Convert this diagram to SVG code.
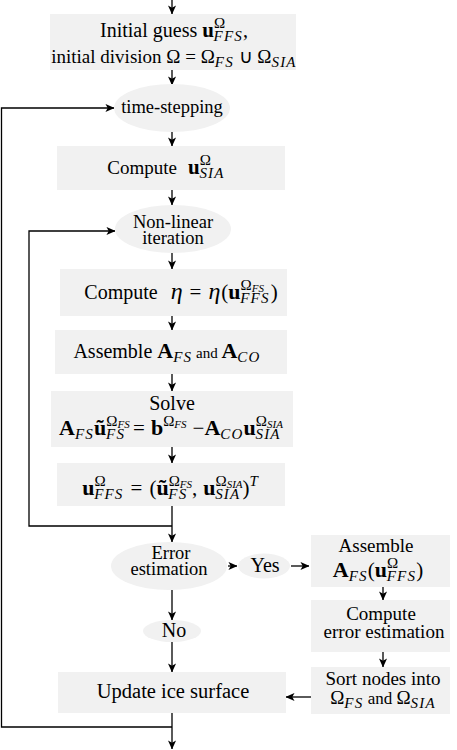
<svg xmlns="http://www.w3.org/2000/svg" width="457" height="750" viewBox="0 0 457 750">
<style>
.bg{fill:#fff}
.n{fill:#f1f1f1;stroke:none}
.c{fill:none;stroke:#000;stroke-width:1.3}
text{font-family:"Liberation Serif","Times New Roman",serif;font-size:19px;fill:#000;text-anchor:middle}
.e{font-size:18.5px}
.yn{font-size:20px}
.mb{font-weight:bold;font-size:22px}
.mi{font-style:italic;font-size:24px}
.mo{font-size:21px}
.sup{font-size:15px}
.sub{font-size:15px;font-style:italic;letter-spacing:1.2px}
.ss{font-size:11px;font-style:italic}
.sm{font-size:15px}
</style>
<defs>
<marker id="ah" viewBox="0 0 10 10" refX="9.5" refY="5" markerWidth="9" markerHeight="9" orient="auto" markerUnits="userSpaceOnUse">
<path d="M0,0.5 L10,5 L0,9.5 L2.5,5 z" fill="#000"/>
</marker>
</defs>
<rect class="bg" x="0" y="0" width="457" height="750"/>

<g id="connectors">
<path class="c" d="M172,0 V14" marker-end="url(#ah)"/>
<path class="c" d="M172,70 V85" marker-end="url(#ah)"/>
<path class="c" d="M172,132 V146" marker-end="url(#ah)"/>
<path class="c" d="M172,190 V205" marker-end="url(#ah)"/>
<path class="c" d="M172,253 V269" marker-end="url(#ah)"/>
<path class="c" d="M172,316 V330" marker-end="url(#ah)"/>
<path class="c" d="M172,374 V391" marker-end="url(#ah)"/>
<path class="c" d="M172,447 V463" marker-end="url(#ah)"/>
<path class="c" d="M172,506 V542" marker-end="url(#ah)"/>
<path class="c" d="M172,590 V620" marker-end="url(#ah)"/>
<path class="c" d="M172,642 V672" marker-end="url(#ah)"/>
<path class="c" d="M172,713 V749" marker-end="url(#ah)"/>
<path class="c" d="M172,727 H1.5 V108 H114" marker-end="url(#ah)"/>
<path class="c" d="M172,526 H29 V231 H115" marker-end="url(#ah)"/>
<path class="c" d="M228,566 H237" marker-end="url(#ah)"/>
<path class="c" d="M291,566 H309" marker-end="url(#ah)"/>
<path class="c" d="M383,587 V600" marker-end="url(#ah)"/>
<path class="c" d="M383,652 V667" marker-end="url(#ah)"/>
<path class="c" d="M311,697 H286" marker-end="url(#ah)"/>
</g>

<g id="init">
<rect class="n" x="50" y="14" width="246" height="56"/>
<text x="174" y="37" style="font-size:20px">Initial guess <tspan class="mb" style="font-size:21px">u</tspan><tspan class="sup" dy="-9">Ω</tspan><tspan class="sub" dx="-11.5" dy="13">FFS</tspan><tspan dy="-4">,</tspan></text>
<text x="174" y="63">initial division Ω = Ω<tspan class="sub" dy="4">FS</tspan><tspan dy="-4"> ∪ Ω</tspan><tspan class="sub" dy="4">SIA</tspan></text>
</g>

<g id="timestep">
<ellipse class="n" cx="172" cy="108" rx="58" ry="24"/>
<text class="e" x="172" y="113">time-stepping</text>
</g>

<g id="computeSIA">
<rect class="n" x="57" y="146" width="228" height="44"/>
<text x="166" y="174">Compute<tspan class="mb" dx="11" style="font-size:21px">u</tspan><tspan class="sup" dy="-9">Ω</tspan><tspan class="sub" dx="-11.5" dy="13">SIA</tspan></text>
</g>

<g id="nonlinear">
<ellipse class="n" cx="173" cy="229" rx="58" ry="24"/>
<text class="e" x="173" y="228">Non-linear</text>
<text class="e" x="173" y="244">iteration</text>
</g>

<g id="computeEta">
<rect class="n" x="60" y="269" width="227" height="47"/>
<text x="181" y="299" style="font-size:20px">Compute<tspan class="mi" dx="13">η</tspan><tspan class="mo" dx="7">=</tspan><tspan class="mi" dx="7">η</tspan><tspan class="mo" dx="1">(</tspan><tspan class="mb">u</tspan><tspan class="sup" dy="-9">Ω</tspan><tspan class="ss" dy="2">FS</tspan><tspan class="sub" dx="-23.7" dy="11">FFS</tspan><tspan class="mo" dx="1" dy="-4">)</tspan></text>
</g>

<g id="assemble">
<rect class="n" x="55" y="330" width="232" height="44"/>
<text x="167" y="358" style="font-size:20px">Assemble <tspan class="mb">A</tspan><tspan class="sub" dy="4">FS</tspan><tspan class="sm" dy="-4"> and </tspan><tspan class="mb">A</tspan><tspan class="sub" dy="4">CO</tspan></text>
</g>

<g id="solve">
<rect class="n" x="51" y="391" width="242" height="56"/>
<text x="172" y="410" style="font-size:20px">Solve</text>
<text x="171" y="435"><tspan class="mb">A</tspan><tspan class="sub" dy="4">FS</tspan><tspan class="mb" dy="-4">ũ</tspan><tspan class="sup" dy="-9">Ω</tspan><tspan class="ss" dy="2">FS</tspan><tspan class="sub" dx="-23.7" dy="11">FS</tspan><tspan class="mo" dx="8" dy="-4">=</tspan><tspan class="mb" dx="6">b</tspan><tspan class="sup" dy="-9">Ω</tspan><tspan class="ss" dy="2">FS</tspan><tspan class="mo" dx="6" dy="7">−</tspan><tspan class="mb">A</tspan><tspan class="sub" dy="4">CO</tspan><tspan class="mb" dy="-4">u</tspan><tspan class="sup" dy="-9">Ω</tspan><tspan class="ss" dy="2">SIA</tspan><tspan class="sub" dx="-27.4" dy="11">SIA</tspan></text>
</g>

<g id="uffs">
<rect class="n" x="57" y="463" width="228" height="43"/>
<text x="170" y="495"><tspan class="mb">u</tspan><tspan class="sup" dy="-9">Ω</tspan><tspan class="sub" dx="-11.5" dy="13">FFS</tspan><tspan class="mo" dx="7" dy="-4">=</tspan><tspan class="mo" dx="7">(</tspan><tspan class="mb">ũ</tspan><tspan class="sup" dy="-9">Ω</tspan><tspan class="ss" dy="2">FS</tspan><tspan class="sub" dx="-23.7" dy="11">FS</tspan><tspan class="mo" dx="4.6" dy="-4">,</tspan><tspan class="mb" dx="6">u</tspan><tspan class="sup" dy="-9">Ω</tspan><tspan class="ss" dy="2">SIA</tspan><tspan class="sub" dx="-27.4" dy="11">SIA</tspan><tspan class="mo" dx="2" dy="-4">)</tspan><tspan class="sup" dy="-9" font-style="italic">T</tspan></text>
</g>

<g id="error">
<ellipse class="n" cx="169" cy="566" rx="58" ry="24"/>
<text class="e" x="171" y="559">Error</text>
<text class="e" x="169" y="575">estimation</text>
</g>

<g id="yes">
<ellipse class="n" cx="264" cy="566" rx="26" ry="12.5"/>
<text class="yn" x="265" y="572">Yes</text>
</g>

<g id="assembleAFS">
<rect class="n" x="311" y="535" width="139" height="52"/>
<text x="376" y="552">Assemble</text>
<text x="378" y="577"><tspan class="mb">A</tspan><tspan class="sub" dy="4">FS</tspan><tspan class="mo" dy="-4">(</tspan><tspan class="mb">u</tspan><tspan class="sup" dy="-9">Ω</tspan><tspan class="sub" dx="-11.5" dy="13">FFS</tspan><tspan class="mo" dy="-4">)</tspan></text>
</g>

<g id="computeErr">
<rect class="n" x="311" y="600" width="139" height="52"/>
<text x="381" y="620">Compute</text>
<text x="384" y="638">error estimation</text>
</g>

<g id="sort">
<rect class="n" x="311" y="667" width="139" height="47"/>
<text x="383" y="685">Sort nodes into</text>
<text x="383" y="704">Ω<tspan class="sub" dy="4">FS</tspan><tspan dy="-4" style="font-size:17px"> and </tspan>Ω<tspan class="sub" dy="4">SIA</tspan></text>
</g>

<g id="no">
<ellipse class="n" cx="172" cy="631" rx="29" ry="11"/>
<text class="yn" x="174" y="637">No</text>
</g>

<g id="update">
<rect class="n" x="58" y="672" width="228" height="41"/>
<text x="173" y="698" style="font-size:20.5px">Update ice surface</text>
</g>
</svg>
